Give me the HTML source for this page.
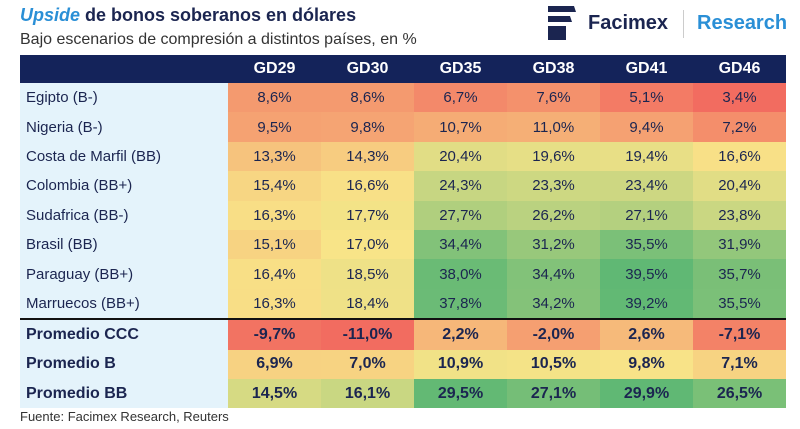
<!DOCTYPE html>
<html><head><meta charset="utf-8"><style>
body{margin:0;width:800px;height:429px;background:#fff;font-family:"Liberation Sans",sans-serif;overflow:hidden;position:relative;color:#1b2550}
.t{position:absolute;white-space:nowrap}
table{position:absolute;left:20px;top:55px;border-collapse:collapse;table-layout:fixed}
td,th{padding:0;height:29.4px;font-size:15px;text-align:center}
th{background:#14235a;color:#fff;font-size:16px;height:28px}
td.l{background:#e4f3fb;text-align:left;padding-left:6px}
tr.s td{font-weight:bold;font-size:16px}
tr.sep td{border-top:2.5px solid #111}
</style></head><body>
<div class="t" style="left:20px;top:5px;font-size:18px;font-weight:bold;color:#1b2550"><i style="color:#2a8fd6">Upside</i> de bonos soberanos en dólares</div>
<div class="t" style="left:20px;top:31px;font-size:16px;color:#333">Bajo escenarios de compresión a distintos países, en %</div>
<svg style="position:absolute;left:546px;top:2px" width="32" height="44"><path d="M2 4h26l2 6H2z" fill="#1b2550"/><path d="M2 14h22l2 6H2z" fill="#1b2550"/><path d="M2 24h18v14H2z" fill="#1b2550"/></svg>
<div class="t" style="left:588px;top:12px;font-size:20px;font-weight:bold;color:#1b2550">Facimex</div>
<div class="t" style="left:683px;top:10px;width:1px;height:28px;background:#ccc"></div>
<div class="t" style="left:697px;top:12px;font-size:20px;font-weight:bold;color:#2a8fd6">Research</div>
<table id="tb">
<colgroup><col style="width:208px"><col span="6" style="width:93px"></colgroup>
<thead><tr><th></th></tr></thead><tbody id="bd"></tbody></table>
<div class="t" style="left:20px;top:409px;font-size:13px;color:#333">Fuente: Facimex Research, Reuters</div>
<script>
const bonds=["GD29","GD30","GD35","GD38","GD41","GD46"];
const countries=["Egipto (B-)","Nigeria (B-)","Costa de Marfil (BB)","Colombia (BB+)","Sudafrica (BB-)","Brasil (BB)","Paraguay (BB+)","Marruecos (BB+)"];
const countryValues=[[8.6,8.6,6.7,7.6,5.1,3.4],[9.5,9.8,10.7,11.0,9.4,7.2],[13.3,14.3,20.4,19.6,19.4,16.6],[15.4,16.6,24.3,23.3,23.4,20.4],[16.3,17.7,27.7,26.2,27.1,23.8],[15.1,17.0,34.4,31.2,35.5,31.9],[16.4,18.5,38.0,34.4,39.5,35.7],[16.3,18.4,37.8,34.2,39.2,35.5]];
const averages=["Promedio CCC","Promedio B","Promedio BB"];
const averageValues=[[-9.7,-11.0,2.2,-2.0,2.6,-7.1],[6.9,7.0,10.9,10.5,9.8,7.1],[14.5,16.1,29.5,27.1,29.9,26.5]];
const R=[242,108,96],Y=[248,228,136],G=[96,184,116];
function mix(a,b,t){return 'rgb('+a.map((v,i)=>Math.round(v+(b[i]-v)*t)).join(',')+')';}
function col(v,mn,md,mx){return v<=md?mix(R,Y,Math.max(0,(v-mn)/(md-mn))):mix(Y,G,Math.min(1,(v-md)/(mx-md)));}
const hr=document.querySelector('thead tr');
bonds.forEach(b=>{const th=document.createElement('th');th.textContent=b;

hr.appendChild(th);});
const bd=document.getElementById('bd');
function row(name,vals,cls,mn,md,mx){const tr=document.createElement('tr');if(cls)tr.className=cls;


const l=document.createElement('td');l.className='l';l.textContent=name;

tr.appendChild(l);
vals.forEach(v=>{const td=document.createElement('td');td.textContent=v.toFixed(1).replace('.',',')+'%';td.style.background=col(v,mn,md,mx);

tr.appendChild(td);});bd.appendChild(tr);}
countries.forEach((c,i)=>row(c,countryValues[i],'',3.4,17,39.5));
averages.forEach((c,i)=>row(c,averageValues[i],'s'+(i==0?' sep':''),-11,10,29.9));
</script>
</body></html>
